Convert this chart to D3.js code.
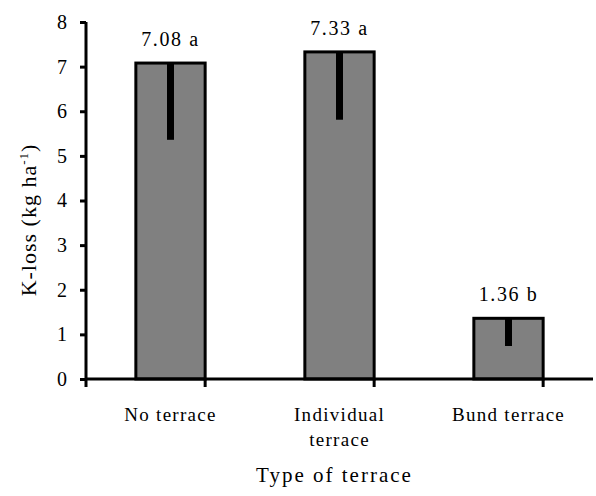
<!DOCTYPE html>
<html>
<head>
<meta charset="utf-8">
<script src="https://cdn.jsdelivr.net/npm/d3@7"></script>
<style>
  body { margin: 0; background: #fff; }
  svg { display: block; font-family: "Liberation Serif", "Times New Roman", serif; }
</style>
</head>
<body>
<svg id="chart" width="596" height="496"></svg>
<script>
const categories = ["No terrace", "Individual terrace", "Bund terrace"];
const categoryLines = [["No terrace"], ["Individual", "terrace"], ["Bund terrace"]];
const values = [7.08, 7.33, 1.36];
const errors = [1.72, 1.52, 0.62];
const letters = ["a", "a", "b"];
const yTicks = [0, 1, 2, 3, 4, 5, 6, 7, 8];

const svg = d3.select("#chart");
const margin = { top: 22, right: 3, bottom: 117, left: 86 };
const width = 596 - margin.left - margin.right;
const height = 496 - margin.top - margin.bottom;

const g = svg.append("g").attr("transform", `translate(${margin.left},${margin.top})`);

const x = d3.scaleBand().domain(categories).range([0, width]).paddingInner(0.59).paddingOuter(0.295);
const y = d3.scaleLinear().domain([0, 8]).range([height, 0]);

const rows = categories.map((c, i) => ({ c, v: values[i], e: errors[i], l: letters[i], lines: categoryLines[i] }));

// bars
g.selectAll("rect.bar")
  .data(rows)
  .join("rect")
  .attr("class", "bar")
  .attr("x", (d) => x(d.c))
  .attr("y", (d) => y(d.v))
  .attr("width", x.bandwidth())
  .attr("height", (d) => y(0) - y(d.v))
  .attr("fill", "#808080")
  .attr("stroke", "#000")
  .attr("stroke-width", 3);

// error bars (downward only)
g.selectAll("line.err")
  .data(rows)
  .join("line")
  .attr("class", "err")
  .attr("x1", (d) => x(d.c) + x.bandwidth() / 2)
  .attr("x2", (d) => x(d.c) + x.bandwidth() / 2)
  .attr("y1", (d) => y(d.v))
  .attr("y2", (d) => y(d.v - d.e))
  .attr("stroke", "#000")
  .attr("stroke-width", 7);

// value labels
g.selectAll("text.val")
  .data(rows)
  .join("text")
  .attr("class", "val")
  .attr("x", (d) => x(d.c) + x.bandwidth() / 2)
  .attr("y", (d) => y(d.v) - 17)
  .attr("text-anchor", "middle")
  .attr("font-size", 20)
  .attr("letter-spacing", 1.6)
  .text((d) => `${d.v.toFixed(2)} ${d.l}`);

// y axis
const yAxis = g.append("g")
  .call(d3.axisLeft(y).tickValues(yTicks).tickSize(6).tickPadding(13).tickFormat(d3.format("d")));
yAxis.select(".domain").attr("stroke-width", 3).attr("d", `M0,${height}V0`);
yAxis.selectAll(".tick line").attr("stroke-width", 3);
yAxis.selectAll(".tick text").attr("font-size", 20).attr("font-family", "Liberation Serif");

// x axis with ticks at band boundaries
const xAxis = g.append("g").attr("transform", `translate(0,${height})`);
xAxis.append("line")
  .attr("x1", 0).attr("x2", width)
  .attr("stroke", "#000").attr("stroke-width", 3);
const step = x.step();
const bounds = d3.range(categories.length + 1).map((i) => x(categories[0]) - x.paddingOuter() * step - (x.paddingInner() * step) / 2 + i * step);
xAxis.selectAll("line.xt")
  .data(bounds)
  .join("line")
  .attr("class", "xt")
  .attr("x1", (d) => Math.max(0, Math.min(width, d)))
  .attr("x2", (d) => Math.max(0, Math.min(width, d)))
  .attr("y1", 0).attr("y2", 8)
  .attr("stroke", "#000").attr("stroke-width", 3);

const catLabels = xAxis.selectAll("text.cat")
  .data(rows)
  .join("text")
  .attr("class", "cat")
  .attr("text-anchor", "middle")
  .attr("font-size", 19)
  .attr("letter-spacing", 1.3)
  .attr("transform", (d) => `translate(${x(d.c) + x.bandwidth() / 2},42)`);
catLabels.selectAll("tspan")
  .data((d) => d.lines)
  .join("tspan")
  .attr("x", 0)
  .attr("dy", (d, i) => (i === 0 ? 0 : 25))
  .text((d) => d);

// axis titles
g.append("text")
  .attr("x", width / 2 - 5)
  .attr("y", height + 103)
  .attr("text-anchor", "middle")
  .attr("font-size", 21)
  .attr("letter-spacing", 2)
  .text("Type of terrace");

const yt = svg.append("text")
  .attr("transform", `translate(36,220) rotate(-90)`)
  .attr("text-anchor", "middle")
  .attr("font-size", 22)
  .attr("letter-spacing", 1);
yt.append("tspan").text("K-loss (kg ha");
yt.append("tspan").attr("font-size", 13).attr("dy", -8).text("-1");
yt.append("tspan").attr("dy", 8).text(")");
</script>
</body>
</html>
